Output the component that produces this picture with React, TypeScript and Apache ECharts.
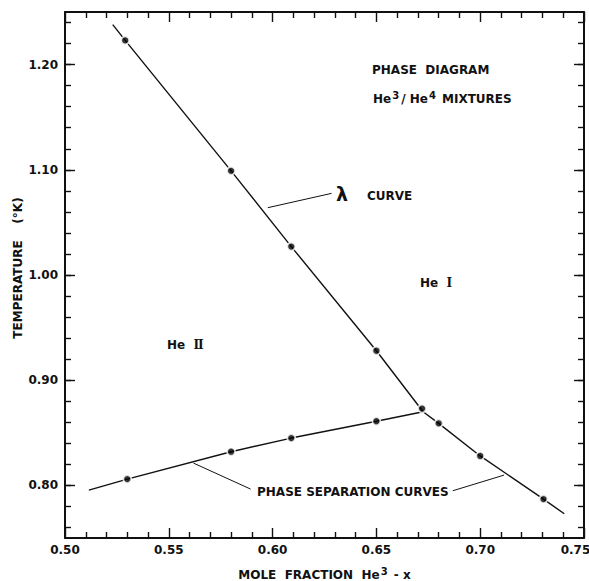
import React, { useEffect, useRef } from "react";
import * as echarts from "echarts";

// Lambda line: measured transition points (mole fraction He3, temperature K)
const lambdaX = [0.529, 0.58, 0.609, 0.65, 0.672, 0.68, 0.7, 0.7305];
const lambdaT = [1.223, 1.099, 1.027, 0.928, 0.873, 0.859, 0.828, 0.787];
// Drawn lambda curve vertices (ends extrapolated past the measured points)
const lambdaCurveX = [0.523, 0.529, 0.58, 0.609, 0.65, 0.6725, 0.68, 0.7, 0.7305, 0.7405];
const lambdaCurveT = [1.238, 1.223, 1.099, 1.027, 0.928, 0.87, 0.859, 0.828, 0.787, 0.773];

// Phase separation: measured points and the drawn curve up to the lambda line
const sepX = [0.53, 0.58, 0.609, 0.65];
const sepT = [0.806, 0.832, 0.845, 0.861];
const sepCurveX = [0.5115, 0.53, 0.58, 0.609, 0.65, 0.6725];
const sepCurveT = [0.7955, 0.806, 0.832, 0.845, 0.861, 0.87];

// Axis ticks
const yMajor = [0.8, 0.9, 1.0, 1.1, 1.2];
const yMinor: number[] = [];
for (let k = 76; k <= 124; k += 2) yMinor.push(k / 100);

// Leader lines from the annotations to the curves
const lambdaLeader = [[0.5977, 1.064], [0.6284, 1.0776]];
const sepLeaderLeft = [[0.5619, 0.8212], [0.5894, 0.7965]];
const sepLeaderRight = [[0.6868, 0.7949], [0.7115, 0.8098]];

const INK = "#111";
const FONT = "DejaVu Sans";
const SERIF = "DejaVu Serif";

const zip = (xs: number[], ys: number[]) => xs.map((x, i) => [x, ys[i]]);

export default function App() {
  const ref = useRef<HTMLDivElement>(null);

  useEffect(() => {
    if (!ref.current) return;
    const chart = echarts.init(ref.current, null, { renderer: "svg" });

    const frame = { show: true, lineStyle: { color: INK, width: 2 } };
    const tickStyle = { color: INK, width: 1.4 };
    const labelStyle = {
      color: INK,
      fontFamily: FONT,
      fontWeight: "bold" as const,
      fontSize: 12,
    };

    const xAxisBase = {
      type: "value" as const,
      min: 0.5,
      max: 0.75,
      interval: 0.05,
      splitLine: { show: false },
      axisLine: frame,
      axisTick: { show: true, inside: true, length: 10, lineStyle: tickStyle },
      minorTick: { show: true, splitNumber: 5, length: 6, lineStyle: tickStyle },
    };

    const yAxisMajor = (position: "left" | "right", labels: boolean) => ({
      type: "value" as const,
      min: 0.75,
      max: 1.25,
      position,
      splitLine: { show: false },
      axisLine: frame,
      axisTick: {
        show: true,
        inside: true,
        length: 10,
        customValues: yMajor,
        lineStyle: tickStyle,
      },
      axisLabel: labels
        ? {
            show: true,
            customValues: yMajor,
            formatter: (v: number) => v.toFixed(2),
            margin: 7,
            ...labelStyle,
          }
        : { show: false },
    });
    const yAxisMinor = (position: "left" | "right") => ({
      type: "value" as const,
      min: 0.75,
      max: 1.25,
      position,
      splitLine: { show: false },
      axisLine: { show: false },
      axisTick: {
        show: true,
        inside: true,
        length: 6,
        customValues: yMinor,
        lineStyle: tickStyle,
      },
      axisLabel: { show: false },
    });

    const curveLine = { color: INK, width: 1.4 };
    const leaderLine = { color: INK, width: 1 };

    const regionLabel = (x: number, y: number, numeral: string) => ({
      type: "text",
      x,
      y,
      style: {
        text: `He  {rn|${numeral}}`,
        font: `bold 12px "${FONT}"`,
        fill: INK,
        verticalAlign: "middle",
        rich: { rn: { font: `bold 12px "${SERIF}"`, fill: INK } },
      },
    });

    chart.setOption({
      animation: false,
      backgroundColor: "#fff",
      grid: {
        left: 65,
        right: 5,
        top: 12,
        bottom: 43,
        containLabel: false,
        outerBoundsMode: "none",
      },
      xAxis: [
        {
          ...xAxisBase,
          position: "bottom",
          axisLabel: {
            // the last label is pulled in so that it stays on the page
            formatter: (v: number) =>
              v >= 0.749 ? `{edge|${v.toFixed(2)}}` : v.toFixed(2),
            margin: 6,
            ...labelStyle,
            rich: { edge: { ...labelStyle, padding: [0, 17, 0, 0] } },
          },
          name: "MOLE  FRACTION  He{sup|3} - x",
          nameLocation: "middle",
          nameGap: 28,
          nameMoveOverlap: false,
          nameTextStyle: {
            ...labelStyle,
            rich: {
              sup: { ...labelStyle, fontSize: 10, padding: [0, 2, 8, 1] },
            },
          },
        },
        { ...xAxisBase, position: "top", axisLabel: { show: false } },
      ],
      yAxis: [
        {
          ...yAxisMajor("left", true),
          name: "TEMPERATURE    (°K)",
          nameLocation: "middle",
          nameGap: 41,
          nameMoveOverlap: false,
          nameTextStyle: { ...labelStyle, padding: [0, 0, 0, 14] },
        },
        yAxisMinor("left"),
        yAxisMajor("right", false),
        yAxisMinor("right"),
      ],
      series: [
        {
          type: "line",
          name: "lambda curve",
          data: zip(lambdaCurveX, lambdaCurveT),
          showSymbol: false,
          lineStyle: curveLine,
          z: 2,
        },
        {
          type: "line",
          name: "phase separation",
          data: zip(sepCurveX, sepCurveT),
          showSymbol: false,
          lineStyle: curveLine,
          z: 2,
        },
        ...[lambdaLeader, sepLeaderLeft, sepLeaderRight].map((d) => ({
          type: "line",
          data: d,
          showSymbol: false,
          lineStyle: leaderLine,
          z: 2,
        })),
        {
          type: "scatter",
          data: [...zip(lambdaX, lambdaT), ...zip(sepX, sepT)],
          symbol: "circle",
          symbolSize: 8,
          itemStyle: { color: "#000", borderColor: "#fff", borderWidth: 1.8 },
          z: 5,
        },
      ],
      graphic: [
        {
          type: "text",
          x: 372,
          y: 70,
          style: {
            text: "PHASE  DIAGRAM",
            font: `bold 12px "${FONT}"`,
            fill: INK,
            verticalAlign: "middle",
          },
        },
        {
          type: "text",
          x: 373,
          y: 99,
          style: {
            text: "He{sup|3}/ He{sup|4} MIXTURES",
            font: `bold 12px "${FONT}"`,
            fill: INK,
            verticalAlign: "middle",
            rich: {
              sup: {
                font: `bold 10px "${FONT}"`,
                fill: INK,
                padding: [0, 2, 8, 1],
              },
            },
          },
        },
        {
          type: "text",
          x: 342,
          y: 194,
          style: {
            text: "λ",
            font: `bold 19px "${FONT}"`,
            fill: INK,
            align: "center",
            verticalAlign: "middle",
          },
        },
        {
          type: "text",
          x: 367,
          y: 196,
          style: {
            text: "CURVE",
            font: `bold 12px "${FONT}"`,
            fill: INK,
            verticalAlign: "middle",
          },
        },
        regionLabel(420, 283, "Ⅰ"),
        regionLabel(167, 345, "Ⅱ"),
        {
          type: "text",
          x: 257,
          y: 492,
          style: {
            text: "PHASE SEPARATION CURVES",
            font: `bold 12px "${FONT}"`,
            fill: INK,
            verticalAlign: "middle",
          },
        },
      ],
    });

    return () => chart.dispose();
  }, []);

  return (
    <div
      ref={ref}
      style={{ position: "fixed", left: 0, top: 0, width: 589, height: 581 }}
    />
  );
}
